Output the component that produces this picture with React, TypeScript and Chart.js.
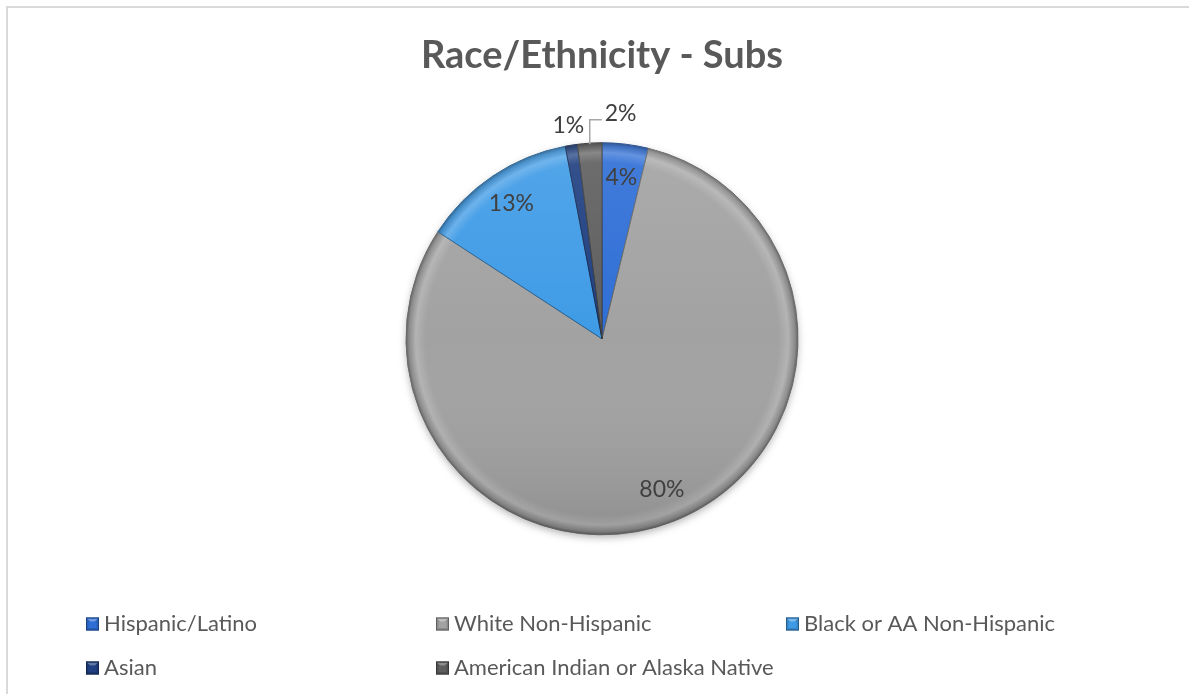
import React, { useEffect, useRef } from "react";
import { Chart, registerables } from "chart.js";

Chart.register(...registerables);

// ---- data ----
const chartTitle = "Race/Ethnicity - Subs";
const categories = [
  "Hispanic/Latino",
  "White Non-Hispanic",
  "Black or AA Non-Hispanic",
  "Asian",
  "American Indian or Alaska Native",
];
const shares = [3.8, 80.4, 12.8, 1.0, 2.0];
const sliceColors = ["#2e6ed6", "#a2a2a2", "#3f9be6", "#1f3f80", "#5e5e5e"];

// ---- helpers ----
function hexToRgb(hex: string) {
  const h = hex.replace("#", "");
  return [parseInt(h.slice(0, 2), 16), parseInt(h.slice(2, 4), 16), parseInt(h.slice(4, 6), 16)];
}
function shade(hex: string, amt: number) {
  const [r, g, b] = hexToRgb(hex);
  const f = (c: number) =>
    Math.round(amt >= 0 ? c + (255 - c) * amt : c * (1 + amt));
  return `rgb(${f(r)},${f(g)},${f(b)})`;
}

const FONT = "Lato, 'Open Sans', sans-serif";
const PIE_RADIUS = 196;

const frameBorder = {
  id: "frameBorder",
  beforeDraw(chart: any) {
    const ctx = chart.ctx;
    ctx.save();
    ctx.fillStyle = "#ffffff";
    ctx.fillRect(0, 0, chart.width, chart.height);
    ctx.fillStyle = "#d9d9d9";
    ctx.fillRect(6, 6, chart.width, 2);
    ctx.fillRect(6, 6, 2, chart.height);
    ctx.restore();
  },
};

const pieShadow = {
  id: "pieShadow",
  beforeDatasetsDraw(chart: any) {
    const meta = chart.getDatasetMeta(0);
    const arc = meta.data[0];
    if (!arc) return;
    const { x, y, outerRadius } = arc.getProps(["x", "y", "outerRadius"], true);
    const ctx = chart.ctx;
    ctx.save();
    ctx.shadowColor = "rgba(0,0,0,0.35)";
    ctx.shadowBlur = 8;
    ctx.shadowOffsetY = 3;
    ctx.fillStyle = "#8a8a8a";
    ctx.beginPath();
    ctx.arc(x, y, outerRadius - 1, 0, Math.PI * 2);
    ctx.fill();
    ctx.restore();
  },
  afterDatasetsDraw(chart: any) {
    const meta = chart.getDatasetMeta(0);
    const arc = meta.data[0];
    if (!arc) return;
    const { x, y, outerRadius } = arc.getProps(["x", "y", "outerRadius"], true);
    const ctx = chart.ctx;
    ctx.save();
    ctx.beginPath();
    ctx.arc(x, y, outerRadius, 0, Math.PI * 2);
    ctx.clip();
    const g = ctx.createLinearGradient(0, y - outerRadius, 0, y + outerRadius);
    g.addColorStop(0, "rgba(255,255,255,0.10)");
    g.addColorStop(0.5, "rgba(255,255,255,0)");
    g.addColorStop(1, "rgba(0,0,0,0.12)");
    ctx.fillStyle = g;
    ctx.fillRect(x - outerRadius, y - outerRadius, outerRadius * 2, outerRadius * 2);
    ctx.restore();
  },
};

const sliceLabels = {
  id: "sliceLabels",
  afterDatasetsDraw(chart: any) {
    const meta = chart.getDatasetMeta(0);
    const ctx = chart.ctx;
    const total = shares.reduce((a, b) => a + b, 0);
    const placed: { l: number; r: number; t: number; b: number }[] = [];
    ctx.save();
    ctx.font = `23px ${FONT}`;
    ctx.fillStyle = "#404040";
    meta.data.forEach((arc: any, i: number) => {
      const { x, y, startAngle, endAngle, outerRadius } = arc.getProps(
        ["x", "y", "startAngle", "endAngle", "outerRadius"],
        true
      );
      const mid = (startAngle + endAngle) / 2;
      const pct = (shares[i] / total) * 100;
      const text = `${Math.round(pct)}%`;
      const w = ctx.measureText(text).width;
      if (pct >= 3) {
        const r = outerRadius * 0.83;
        ctx.textAlign = "center";
        ctx.textBaseline = "middle";
        ctx.fillText(text, x + Math.cos(mid) * r, y + Math.sin(mid) * r);
        return;
      }
      const r = outerRadius * 1.1;
      const lx = x + Math.cos(mid) * r;
      const ly = y + Math.sin(mid) * r;
      const box = { l: lx - w / 2, r: lx + w / 2, t: ly - 11, b: ly + 11 };
      const hit = placed.some(
        (p) => !(box.r < p.l || box.l > p.r || box.b < p.t || box.t > p.b)
      );
      if (!hit) {
        ctx.textAlign = "center";
        ctx.textBaseline = "middle";
        ctx.fillText(text, lx, ly);
        placed.push(box);
      } else {
        const ax = x + Math.cos(mid) * (outerRadius - 1);
        const ay = y + Math.sin(mid) * (outerRadius - 1);
        const lineY = y + Math.sin(mid) * outerRadius * 1.12;
        ctx.save();
        ctx.strokeStyle = "#a6a6a6";
        ctx.lineWidth = 1.5;
        ctx.beginPath();
        ctx.moveTo(ax, ay);
        ctx.lineTo(ax, lineY);
        ctx.lineTo(ax + 12, lineY);
        ctx.stroke();
        ctx.restore();
        ctx.textAlign = "left";
        ctx.textBaseline = "middle";
        ctx.fillText(text, ax + 15, lineY - 6);
        placed.push({ l: ax + 15, r: ax + 15 + w, t: lineY - 17, b: lineY + 5 });
      }
    });
    ctx.restore();
  },
};

const gridLegend = {
  id: "gridLegend",
  afterDraw(chart: any) {
    const ctx = chart.ctx;
    const left = 86;
    const colW = 350;
    const top = 624;
    const rowH = 44;
    const perRow = 3;
    const sw = 13;
    ctx.save();
    ctx.font = `22px ${FONT}`;
    ctx.textAlign = "left";
    ctx.textBaseline = "middle";
    categories.forEach((name, i) => {
      const cx = left + (i % perRow) * colW;
      const cy = top + Math.floor(i / perRow) * rowH;
      const c = sliceColors[i];
      const sx = cx;
      const sy = cy - sw / 2;
      ctx.fillStyle = shade(c, -0.15);
      ctx.fillRect(sx, sy, sw, sw);
      ctx.fillStyle = shade(c, 0.3);
      ctx.beginPath();
      ctx.moveTo(sx + 1, sy + 1);
      ctx.lineTo(sx + sw - 1, sy + 1);
      ctx.lineTo(sx + sw / 2, sy + sw / 2);
      ctx.closePath();
      ctx.fill();
      ctx.fillStyle = c;
      ctx.fillRect(sx + 2.5, sy + 4, sw - 5, sw - 6.5);
      ctx.strokeStyle = shade(c, -0.4);
      ctx.lineWidth = 1;
      ctx.strokeRect(sx + 0.5, sy + 0.5, sw - 1, sw - 1);
      ctx.fillStyle = "#595959";
      ctx.fillText(name, sx + sw + 5, cy);
    });
    ctx.restore();
  },
};

export default function App() {
  const canvasRef = useRef<HTMLCanvasElement | null>(null);

  useEffect(() => {
    if (!canvasRef.current) return;
    const chart = new Chart(canvasRef.current, {
      type: "pie",
      data: {
        labels: categories,
        datasets: [
          {
            data: shares,
            backgroundColor: (c: any) => {
              const base = sliceColors[c.dataIndex];
              const ch = c.chart;
              const area = ch.chartArea;
              if (!area) return base;
              const cx = (area.left + area.right) / 2;
              const cy = (area.top + area.bottom) / 2;
              const g = ch.ctx.createRadialGradient(cx, cy, 0, cx, cy, PIE_RADIUS);
              g.addColorStop(0, base);
              g.addColorStop(0.9, base);
              g.addColorStop(0.95, shade(base, 0.18));
              g.addColorStop(0.985, shade(base, -0.15));
              g.addColorStop(1, shade(base, -0.4));
              return g;
            },
            borderColor: sliceColors.map((c) => shade(c, -0.35)),
            borderWidth: 1,
          },
        ],
      },
      options: {
        responsive: false,
        animation: false,
        devicePixelRatio: 1,
        radius: PIE_RADIUS,
        layout: { padding: { left: 15, right: 0, top: 0, bottom: 95 } },
        plugins: {
          legend: { display: false },
          tooltip: { enabled: false },
          title: {
            display: true,
            text: chartTitle,
            color: "#595959",
            font: { family: FONT, size: 38, weight: "bold", lineHeight: 1.2 },
            padding: { top: 33, bottom: 0 },
          },
        },
      } as any,
      plugins: [frameBorder, pieShadow, sliceLabels, gridLegend],
    });
    return () => chart.destroy();
  }, []);

  return (
    <div style={{ position: "absolute", left: 0, top: 0, width: 1189, height: 694, background: "#fff" }}>
      <canvas ref={canvasRef} width={1189} height={694} />
    </div>
  );
}
